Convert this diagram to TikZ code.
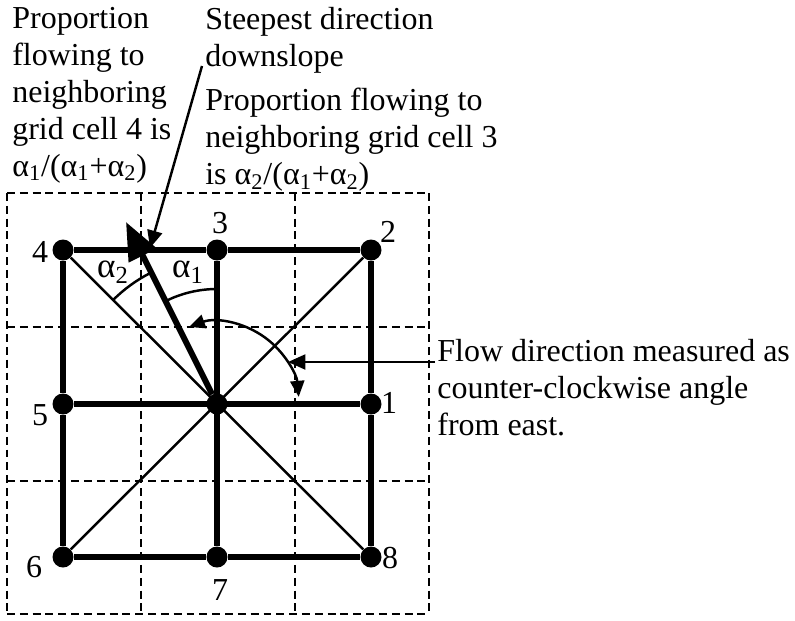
\documentclass[tikz,border=0pt]{standalone}
\usepackage{fontspec}
\setmainfont{Liberation Serif}
\usetikzlibrary{arrows.meta, calc}

\tikzset{
  gridline/.style={line width=2.9pt},
  diagline/.style={line width=1.4pt},
  cellline/.style={line width=1.3pt, dash pattern=on 4.5pt off 2.8pt},
  dot/.style={circle, fill, inner sep=0pt, minimum size=0.42cm},
  lbl/.style={inner sep=0pt, font=\fontsize{18.2}{21}\selectfont},
  txt/.style={inner sep=0pt, align=left, anchor=north west, font=\fontsize{18.2}{21}\selectfont},
}
\newcommand{\asub}[1]{α\textsubscript{#1}}

\begin{document}
\begin{tikzpicture}[x=0.02cm, y=-0.02cm]
    \useasboundingbox (0,0) rectangle (795,620);

    % --- dashed cell boundaries ---
    \foreach \x in {7, 141, 295, 429} {
      \draw[cellline] (\x,193) -- (\x,614);
    }
    \foreach \y in {193, 327, 481, 614} {
      \draw[cellline] (7,\y) -- (429,\y);
    }

    % --- grid cell centres ---
    \node[dot] (c4) at (63,250) {};
    \node[dot] (c3) at (217,250) {};
    \node[dot] (c2) at (371,250) {};
    \node[dot] (c5) at (63,404) {};
    \node[dot] (c0) at (217,404) {};
    \node[dot] (c1) at (371,404) {};
    \node[dot] (c6) at (63,557) {};
    \node[dot] (c7) at (217,557) {};
    \node[dot] (c8) at (371,557) {};

    \node[lbl] (l1) at (389,403) {1};
    \node[lbl] (l2) at (388,232) {2};
    \node[lbl] (l3) at (220,223) {3};
    \node[lbl] (l4) at (40,252) {4};
    \node[lbl] (l5) at (40,415) {5};
    \node[lbl] (l6) at (34,567) {6};
    \node[lbl] (l7) at (220,590) {7};
    \node[lbl] (l8) at (390,558) {8};

    % --- connections ---
    \draw[gridline] (c4) -- (c3) -- (c2) -- (c1) -- (c8) -- (c7) -- (c6) -- (c5) -- (c4);
    \draw[gridline] (c3) -- (c7);
    \draw[gridline] (c5) -- (c1);
    \draw[diagline] (c4) -- (c8);
    \draw[diagline] (c2) -- (c6);

    % --- steepest direction and angles ---
    \coordinate (downtip) at (126,222);
    \draw[line width=3.4pt, -{Triangle[length=0.75cm, width=0.6cm]}] (c0) -- (downtip);
    \draw[diagline] (c0.center) ++(-135:147) arc[start angle=-135, end angle=-117, radius=147];
    \draw[diagline] (c0.center) ++(-116:115) arc[start angle=-116, end angle=-90, radius=115];
    \node[lbl, font=\fontsize{20}{21}\selectfont] (a2) at (113,272) {\asub{2}};
    \node[lbl, font=\fontsize{20}{21}\selectfont] (a1) at (188,272) {\asub{1}};

    % --- flow angle ---
    \draw[diagline, {Triangle[length=0.32cm, width=0.28cm]}-{Triangle[length=0.32cm, width=0.28cm]}]
      (c0.center) ++(-110:82) arc[start angle=-110, end angle=-5, radius=82];

    % --- texts and callouts ---
    \node[txt] (prop4) at (12,7) {Proportion\\flowing to\\neighboring\\grid cell 4 is\\\asub{1}/(\asub{1}+\asub{2})};
    \node[txt] (steep) at (205,7) {Steepest direction\\downslope};
    \node[txt] (prop3) at (205,88) {Proportion flowing to\\neighboring grid cell 3\\is \asub{2}/(\asub{1}+\asub{2})};
    \node[txt] (flow) at (437,339) {Flow direction measured as\\counter-clockwise angle\\from east.};

    \coordinate (steepfoot) at (202,66);
    \coordinate (steeptip) at (150,248);
    \draw[diagline, -{Triangle[length=0.35cm, width=0.3cm]}] (steepfoot) -- (steeptip);

    \coordinate (flowfoot) at (435,362);
    \coordinate (flowtip) at (288,362);
    \draw[diagline, -{Triangle[length=0.35cm, width=0.3cm]}] (flowfoot) -- (flowtip);
  \end{tikzpicture}
\end{document}
